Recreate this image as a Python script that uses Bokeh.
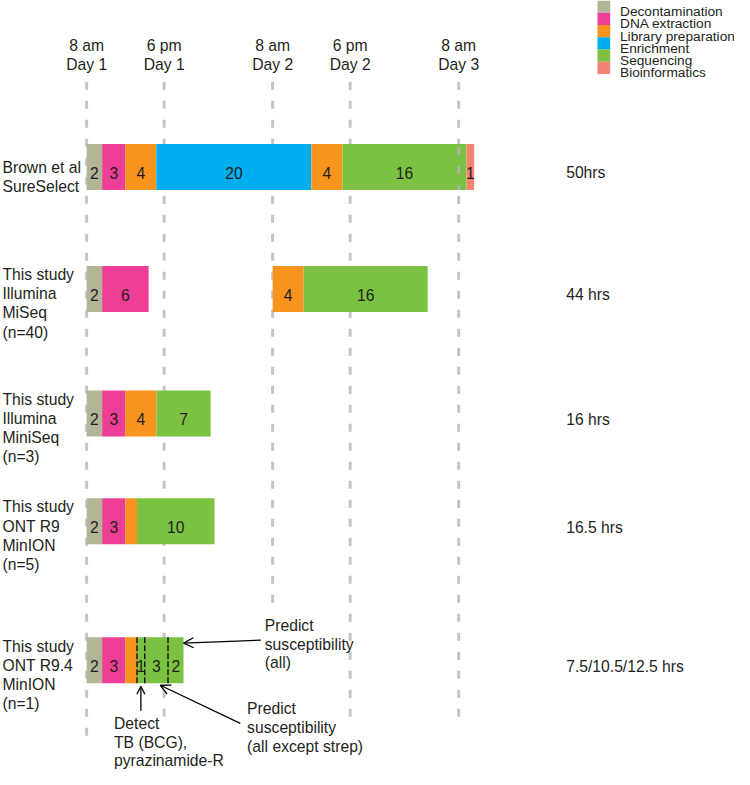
from bokeh.plotting import figure
from bokeh.models import Range1d, Arrow, OpenHead
from bokeh.core.properties import value
from bokeh.embed import file_html
from bokeh.resources import INLINE

# ---------------- data ----------------
stages = ["Decontamination", "DNA extraction", "Library preparation",
          "Enrichment", "Sequencing", "Bioinformatics"]
stage_colors = ["#b4b497", "#ee3f96", "#f7941e", "#00aeef", "#7cc242", "#f58270"]

row_names = [
    ["Brown et al", "SureSelect"],
    ["This study", "Illumina", "MiSeq", "(n=40)"],
    ["This study", "Illumina", "MiniSeq", "(n=3)"],
    ["This study", "ONT R9", "MinION", "(n=5)"],
    ["This study", "ONT R9.4", "MinION", "(n=1)"],
]

brown_stages = ["Decontamination", "DNA extraction", "Library preparation", "Enrichment",
                "Library preparation", "Sequencing", "Bioinformatics"]
brown_hours = [2, 3, 4, 20, 4, 16, 1]
brown_labels = ["2", "3", "4", "20", "4", "16", "1"]

miseq_stages = ["Decontamination", "DNA extraction", None, "Library preparation", "Sequencing"]
miseq_hours = [2, 6, 16, 4, 16]
miseq_labels = ["2", "6", "", "4", "16"]

miniseq_stages = ["Decontamination", "DNA extraction", "Library preparation", "Sequencing"]
miniseq_hours = [2, 3, 4, 7]
miniseq_labels = ["2", "3", "4", "7"]

r9_stages = ["Decontamination", "DNA extraction", "Library preparation", "Sequencing"]
r9_hours = [2, 3, 1.5, 10]
r9_labels = ["2", "3", "", "10"]

r94_stages = ["Decontamination", "DNA extraction", "Library preparation",
              "Sequencing", "Sequencing", "Sequencing"]
r94_hours = [2, 3, 1.5, 1, 3, 2]
r94_labels = ["2", "3", "", "1", "3", "2"]

total_labels = ["50hrs", "44 hrs", "16 hrs", "16.5 hrs", "7.5/10.5/12.5 hrs"]

mark_hours = [0, 10, 24, 34, 48]
mark_top = ["8 am", "6 pm", "8 am", "6 pm", "8 am"]
mark_bottom = ["Day 1", "Day 1", "Day 2", "Day 2", "Day 3"]

# ---------------- layout ----------------
W, H = 734, 769          # plot size (fits the window with its 8px margin)
RW, RH = 750, 785        # reference canvas units
PXH = 7.92               # reference pixels per hour
X0 = 88                  # reference pixel of hour 0
row_y = [170, 294.5, 421.5, 531.5, 673.5]
BAR_H = 47
FONT = value("Liberation Sans")
TXT = "#231f20"
FS = "15.7px"


def hx(px):
    """reference pixel -> hours (layout helper)"""
    return (px - X0) / PXH


p = figure(width=W, height=H, output_backend="svg", toolbar_location=None,
           x_range=Range1d(hx(0), hx(RW)),
           y_range=Range1d(RH, 0),
           x_axis_type=None, y_axis_type=None, min_border=0)
p.grid.visible = False
p.outline_line_color = None

# vertical dashed time markers
mark_end = [757, 735, 615, 740, 740]
p.segment(x0=mark_hours, x1=mark_hours, y0=[83] * 5, y1=mark_end,
          line_color="#c4c4c4", line_width=3, line_dash="8 11")

for h, t, b in zip(mark_hours, mark_top, mark_bottom):
    p.text(x=[h], y=[46], text=[t], text_font=FONT, text_font_size=FS,
           text_color=TXT, text_align="center", text_baseline="alphabetic")
    p.text(x=[h], y=[65], text=[b], text_font=FONT, text_font_size=FS,
           text_color=TXT, text_align="center", text_baseline="alphabetic")

# bars
rows = [(brown_stages, brown_hours, brown_labels),
        (miseq_stages, miseq_hours, miseq_labels),
        (miniseq_stages, miniseq_hours, miniseq_labels),
        (r9_stages, r9_hours, r9_labels),
        (r94_stages, r94_hours, r94_labels)]

lefts, rights, ys, cols = [], [], [], []
lx, ly, lt = [], [], []
for (st, hrs, labs), yc in zip(rows, row_y):
    t = 0
    for s, h, lab in zip(st, hrs, labs):
        if s is not None:
            lefts.append(t); rights.append(t + h); ys.append(yc)
            cols.append(stage_colors[stages.index(s)])
            if lab:
                lx.append(t + h / 2); ly.append(yc + 6); lt.append(lab)
        t += h

p.hbar(y=ys, left=lefts, right=rights, height=BAR_H, fill_color=cols, line_color=None)

# gray marker over the Brown bar at Day 3
p.segment(x0=[48], x1=[48], y0=[row_y[0] - BAR_H / 2 + 3], y1=[row_y[0] + BAR_H / 2],
          line_color="#b0b0b0", line_width=3, line_dash="8 11")

# dividers within R9.4 sequencing
cum = 0
divs = []
for s, h in zip(r94_stages, r94_hours):
    if s == "Sequencing":
        divs.append(cum)
    cum += h
p.segment(x0=divs, x1=divs, y0=[row_y[4] - BAR_H / 2] * len(divs),
          y1=[row_y[4] + BAR_H / 2] * len(divs),
          line_color="black", line_width=1.3, line_dash="6 2")

p.text(x=lx, y=ly, text=lt, text_font=FONT, text_font_size=FS,
       text_color=TXT, text_align="center", text_baseline="alphabetic")

# row names (left)
nx, ny, nt = [], [], []
for i, (names, yc) in enumerate(zip(row_names, row_y)):
    top = yc - BAR_H / 2 + (24 if i == 0 else 9)
    for j, nm in enumerate(names):
        nx.append(hx(2)); ny.append(top + j * 19.5); nt.append(nm)
p.text(x=nx, y=ny, text=nt, text_font=FONT, text_font_size=FS,
       text_color=TXT, text_align="left", text_baseline="alphabetic")

# totals (right)
p.text(x=[hx(578)] * 5, y=[yc + 6 for yc in row_y], text=total_labels, text_font=FONT,
       text_font_size=FS, text_color=TXT, text_align="left", text_baseline="alphabetic")

# legend
sw_x0, sw_x1 = hx(610), hx(623)
band = 12.5
for i, (s, c) in enumerate(zip(stages, stage_colors)):
    y0 = i * band
    p.quad(left=[sw_x0], right=[sw_x1], top=[y0], bottom=[y0 + band],
           fill_color=c, line_color=None)
    p.text(x=[hx(633)], y=[y0 + band / 2 + 5], text=[s], text_font=FONT,
           text_font_size="13.7px", text_color=TXT, text_align="left",
           text_baseline="alphabetic")

# annotations
ann = [
    (hx(270), [638, 657, 676], ["Predict", "susceptibility", "(all)"]),
    (hx(116), [738, 757, 776], ["Detect", "TB (BCG),", "pyrazinamide-R"]),
    (hx(252), [723, 742, 762], ["Predict", "susceptibility", "(all except strep)"]),
]
for x, yl, tl in ann:
    p.text(x=[x] * len(tl), y=yl, text=tl, text_font=FONT, text_font_size=FS,
           text_color=TXT, text_align="left", text_baseline="alphabetic")

r94_end = sum(r94_hours)
p.add_layout(Arrow(end=OpenHead(size=10, line_width=1.3), x_start=hx(266), y_start=653,
                   x_end=r94_end, y_end=656, line_width=1.3))
p.add_layout(Arrow(end=OpenHead(size=8, line_width=1.3), x_start=divs[0] + 0.5, y_start=725,
                   x_end=divs[0] + 0.5, y_end=700, line_width=1.3))
p.add_layout(Arrow(end=OpenHead(size=10, line_width=1.3), x_start=hx(245), y_start=738,
                   x_end=9.5, y_end=699, line_width=1.3))

open("out.html", "w").write(file_html(p, INLINE))
